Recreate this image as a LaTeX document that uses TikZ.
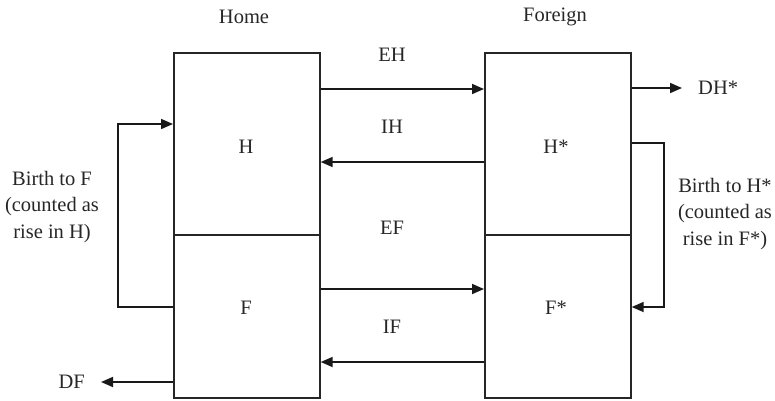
\documentclass[tikz,border=0pt]{standalone}
\usepackage{fontspec}
\setmainfont{Liberation Serif}
\usetikzlibrary{arrows.meta}
\begin{document}
\begin{tikzpicture}[
x=1pt, y=-1pt, % 1 px of the layout = 1pt, y downwards
every node/.style={font=\fontsize{20.5}{26.5}\selectfont, text=black!85},
box/.style={draw=black!85, line width=1.7pt, minimum width=146pt, inner sep=0pt, anchor=north west},
flow/.style={-{Triangle[length=12pt,width=10pt]}, line width=1.7pt, draw=black!90},
txt/.style={inner sep=0pt}
]
\useasboundingbox (0,0) rectangle (775,400);

% --- Boxes ---
\node[box, minimum height=182pt] (homeH) at (173,52) {};
\node[box, minimum height=163pt] (homeF) at (173,234) {};
\node[box, minimum height=182pt] (forH) at (484,52) {};
\node[box, minimum height=163pt] (forF) at (484,234) {};

% titles and box labels
\node (home) at (244,17) {Home};
\node (foreign) at (555,17) {Foreign};
\node (lH) at (246,147) {H};
\node (lF) at (246,308) {F};
\node (lHs) at (556,147) {H*};
\node (lFs) at (556,308) {F*};

% --- Flows between the countries ---
\node (eh) at (392,55) {EH};
\node (ih) at (392,127) {IH};
\node (ef) at (392,228) {EF};
\node (if) at (392,327) {IF};

\coordinate (yEH) at (0,89);
\coordinate (yIH) at (0,162);
\coordinate (yEF) at (0,289);
\coordinate (yIF) at (0,362);

\draw[flow] (homeH.east |- yEH) -- (forH.west |- yEH);
\draw[flow] (forH.west |- yIH) -- (homeH.east |- yIH);
\draw[flow] (homeF.east |- yEF) -- (forF.west |- yEF);
\draw[flow] (forF.west |- yIF) -- (homeF.east |- yIF);

% --- Deaths ---
\node[txt, anchor=west] (dhs) at (698,88) {DH*};
\node[txt, anchor=east] (df) at (85,382) {DF};
\draw[flow, shorten >=16pt] (forH.east |- dhs) -- (dhs.west);
\draw[flow, shorten >=16pt] (homeF.west |- df) -- (df.east);

% --- Births ---
\coordinate (lb) at (118,307);
\coordinate (lt) at (118,124);
\draw[flow] (homeF.west |- lb) -- (lb) -- (lt) -- (homeH.west |- lt);
\node[align=center] (birthF) at (52,207) {Birth to F\\(counted as\\rise in H)};

\coordinate (rt) at (664,143);
\coordinate (rb) at (664,307);
\draw[flow] (forH.east |- rt) -- (rt) -- (rb) -- (forF.east |- rb);
\node[align=center] (birthH) at (725,214) {Birth to H*\\(counted as\\rise in F*)};

\end{tikzpicture}
\end{document}
